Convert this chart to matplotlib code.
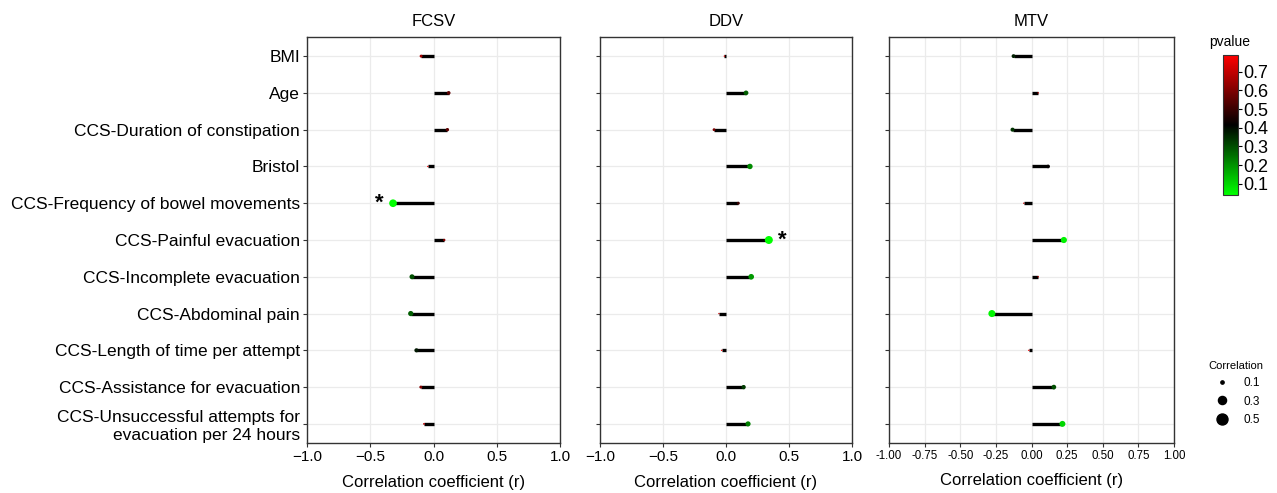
import numpy as np
import matplotlib
matplotlib.use("Agg")
import matplotlib.pyplot as plt
from matplotlib.colors import LinearSegmentedColormap, Normalize
from matplotlib.lines import Line2D

plt.rcParams['font.family'] = ['Liberation Sans', 'DejaVu Sans']

categories = [
    "BMI", "Age", "CCS-Duration of constipation", "Bristol",
    "CCS-Frequency of bowel movements", "CCS-Painful evacuation",
    "CCS-Incomplete evacuation", "CCS-Abdominal pain",
    "CCS-Length of time per attempt", "CCS-Assistance for evacuation",
    "CCS-Unsuccessful attempts for\nevacuation per 24 hours",
]
panels = ["FCSV", "DDV", "MTV"]

r_fcsv = [-0.098, 0.12, 0.11, -0.045, -0.32, 0.085, -0.17, -0.18, -0.135, -0.10, -0.075]
p_fcsv = [0.65, 0.55, 0.55, 0.75, 0.042, 0.62, 0.30, 0.28, 0.38, 0.60, 0.68]

r_ddv = [-0.013, 0.159, -0.095, 0.19, 0.098, 0.34, 0.20, -0.056, -0.034, 0.14, 0.175]
p_ddv = [0.76, 0.28, 0.60, 0.21, 0.50, 0.041, 0.19, 0.70, 0.78, 0.33, 0.23]

r_mtv = [-0.126, 0.047, -0.133, 0.117, -0.054, 0.227, 0.047, -0.278, -0.019, 0.157, 0.217]
p_mtv = [0.37, 0.72, 0.34, 0.42, 0.70, 0.06, 0.72, 0.052, 0.78, 0.30, 0.10]

cbar_ticks = [0.1, 0.2, 0.3, 0.4, 0.5, 0.6, 0.7]
size_legend_vals = [0.1, 0.3, 0.5]

r_all = [r_fcsv, r_ddv, r_mtv]
p_all = [p_fcsv, p_ddv, p_mtv]

cmap = LinearSegmentedColormap.from_list("gbr", ["#00FF00", "#000000", "#FF0000"])
norm = Normalize(vmin=0.04, vmax=0.79)


def size_of(r):
    return np.clip(118 * np.abs(np.asarray(r)) - 7.1, 1.0, None)


fig = plt.figure(figsize=(12.77, 4.93), dpi=100)
W, H = 1277, 493
boxes = [(307, 560), (600, 852), (889, 1174)]
top, bottom = 37, 443
ypos = np.arange(len(categories))[::-1]

for i, (name, (x0, x1)) in enumerate(zip(panels, boxes)):
    ax = fig.add_axes([x0 / W, 1 - bottom / H, (x1 - x0) / W, (bottom - top) / H])
    r = np.array(r_all[i])
    p = np.array(p_all[i])
    ax.set_xlim(-1, 1)
    ax.set_ylim(-0.52, len(categories) - 0.48)
    ax.set_axisbelow(True)
    ax.grid(True, color="#ebebeb", lw=0.9)
    ax.hlines(ypos, 0, r, color="black", lw=2.4, zorder=2)
    ax.scatter(r, ypos, s=size_of(r), c=p, cmap=cmap, norm=norm, zorder=3, linewidths=0)
    for xv, yv, pv in zip(r, ypos, p):
        if pv < 0.05:
            ax.text(xv + 0.11 * np.sign(xv), yv, "*", ha="center", va="center",
                    fontsize=16, fontweight="bold")
    ax.set_yticks(ypos)
    if i == 0:
        ax.set_yticklabels(categories, fontsize=12.5)
    else:
        ax.set_yticklabels([])
    if name == "MTV":
        ax.set_xticks(np.arange(-1, 1.01, 0.25))
        ax.set_xticklabels([f"{v:.2f}" for v in np.arange(-1, 1.01, 0.25)], fontsize=8.3)
    else:
        ax.set_xticks([-1, -0.5, 0, 0.5, 1])
        ax.set_xticklabels(["−1.0", "−0.5", "0.0", "0.5", "1.0"], fontsize=11)
    ax.tick_params(length=3, width=0.8, color="#333333", pad=2)
    for sp in ax.spines.values():
        sp.set_color("#333333")
        sp.set_linewidth(1.0)
    ax.set_title(name, fontsize=12, pad=8)
    ax.set_xlabel("Correlation coefficient (r)", fontsize=12, labelpad=8)

# colorbar
cax = fig.add_axes([1223 / W, 1 - 195 / H, 15 / W, 140 / H])
sm = plt.cm.ScalarMappable(cmap=cmap, norm=norm)
cb = fig.colorbar(sm, cax=cax, ticks=cbar_ticks)
cb.ax.tick_params(labelsize=13, length=3, width=0.8, pad=1)
cb.outline.set_linewidth(0.8)
cb.outline.set_edgecolor("#333333")
fig.text(1230 / W, 1 - 42 / H, "pvalue", ha="center", va="center", fontsize=10)

# size legend
handles = [Line2D([], [], ls="none", marker="o", color="black",
                  markersize=np.sqrt(size_of(v)) * 1.1) for v in size_legend_vals]
leg = fig.legend(handles, [str(v) for v in size_legend_vals], title="Correlation",
                 loc="upper left", bbox_to_anchor=(1198 / W, 1 - 350 / H),
                 frameon=False, fontsize=8.5, title_fontsize=8,
                 labelspacing=0.55, handlelength=1.6, handletextpad=1.0)

fig.savefig("out.png", dpi=100)
